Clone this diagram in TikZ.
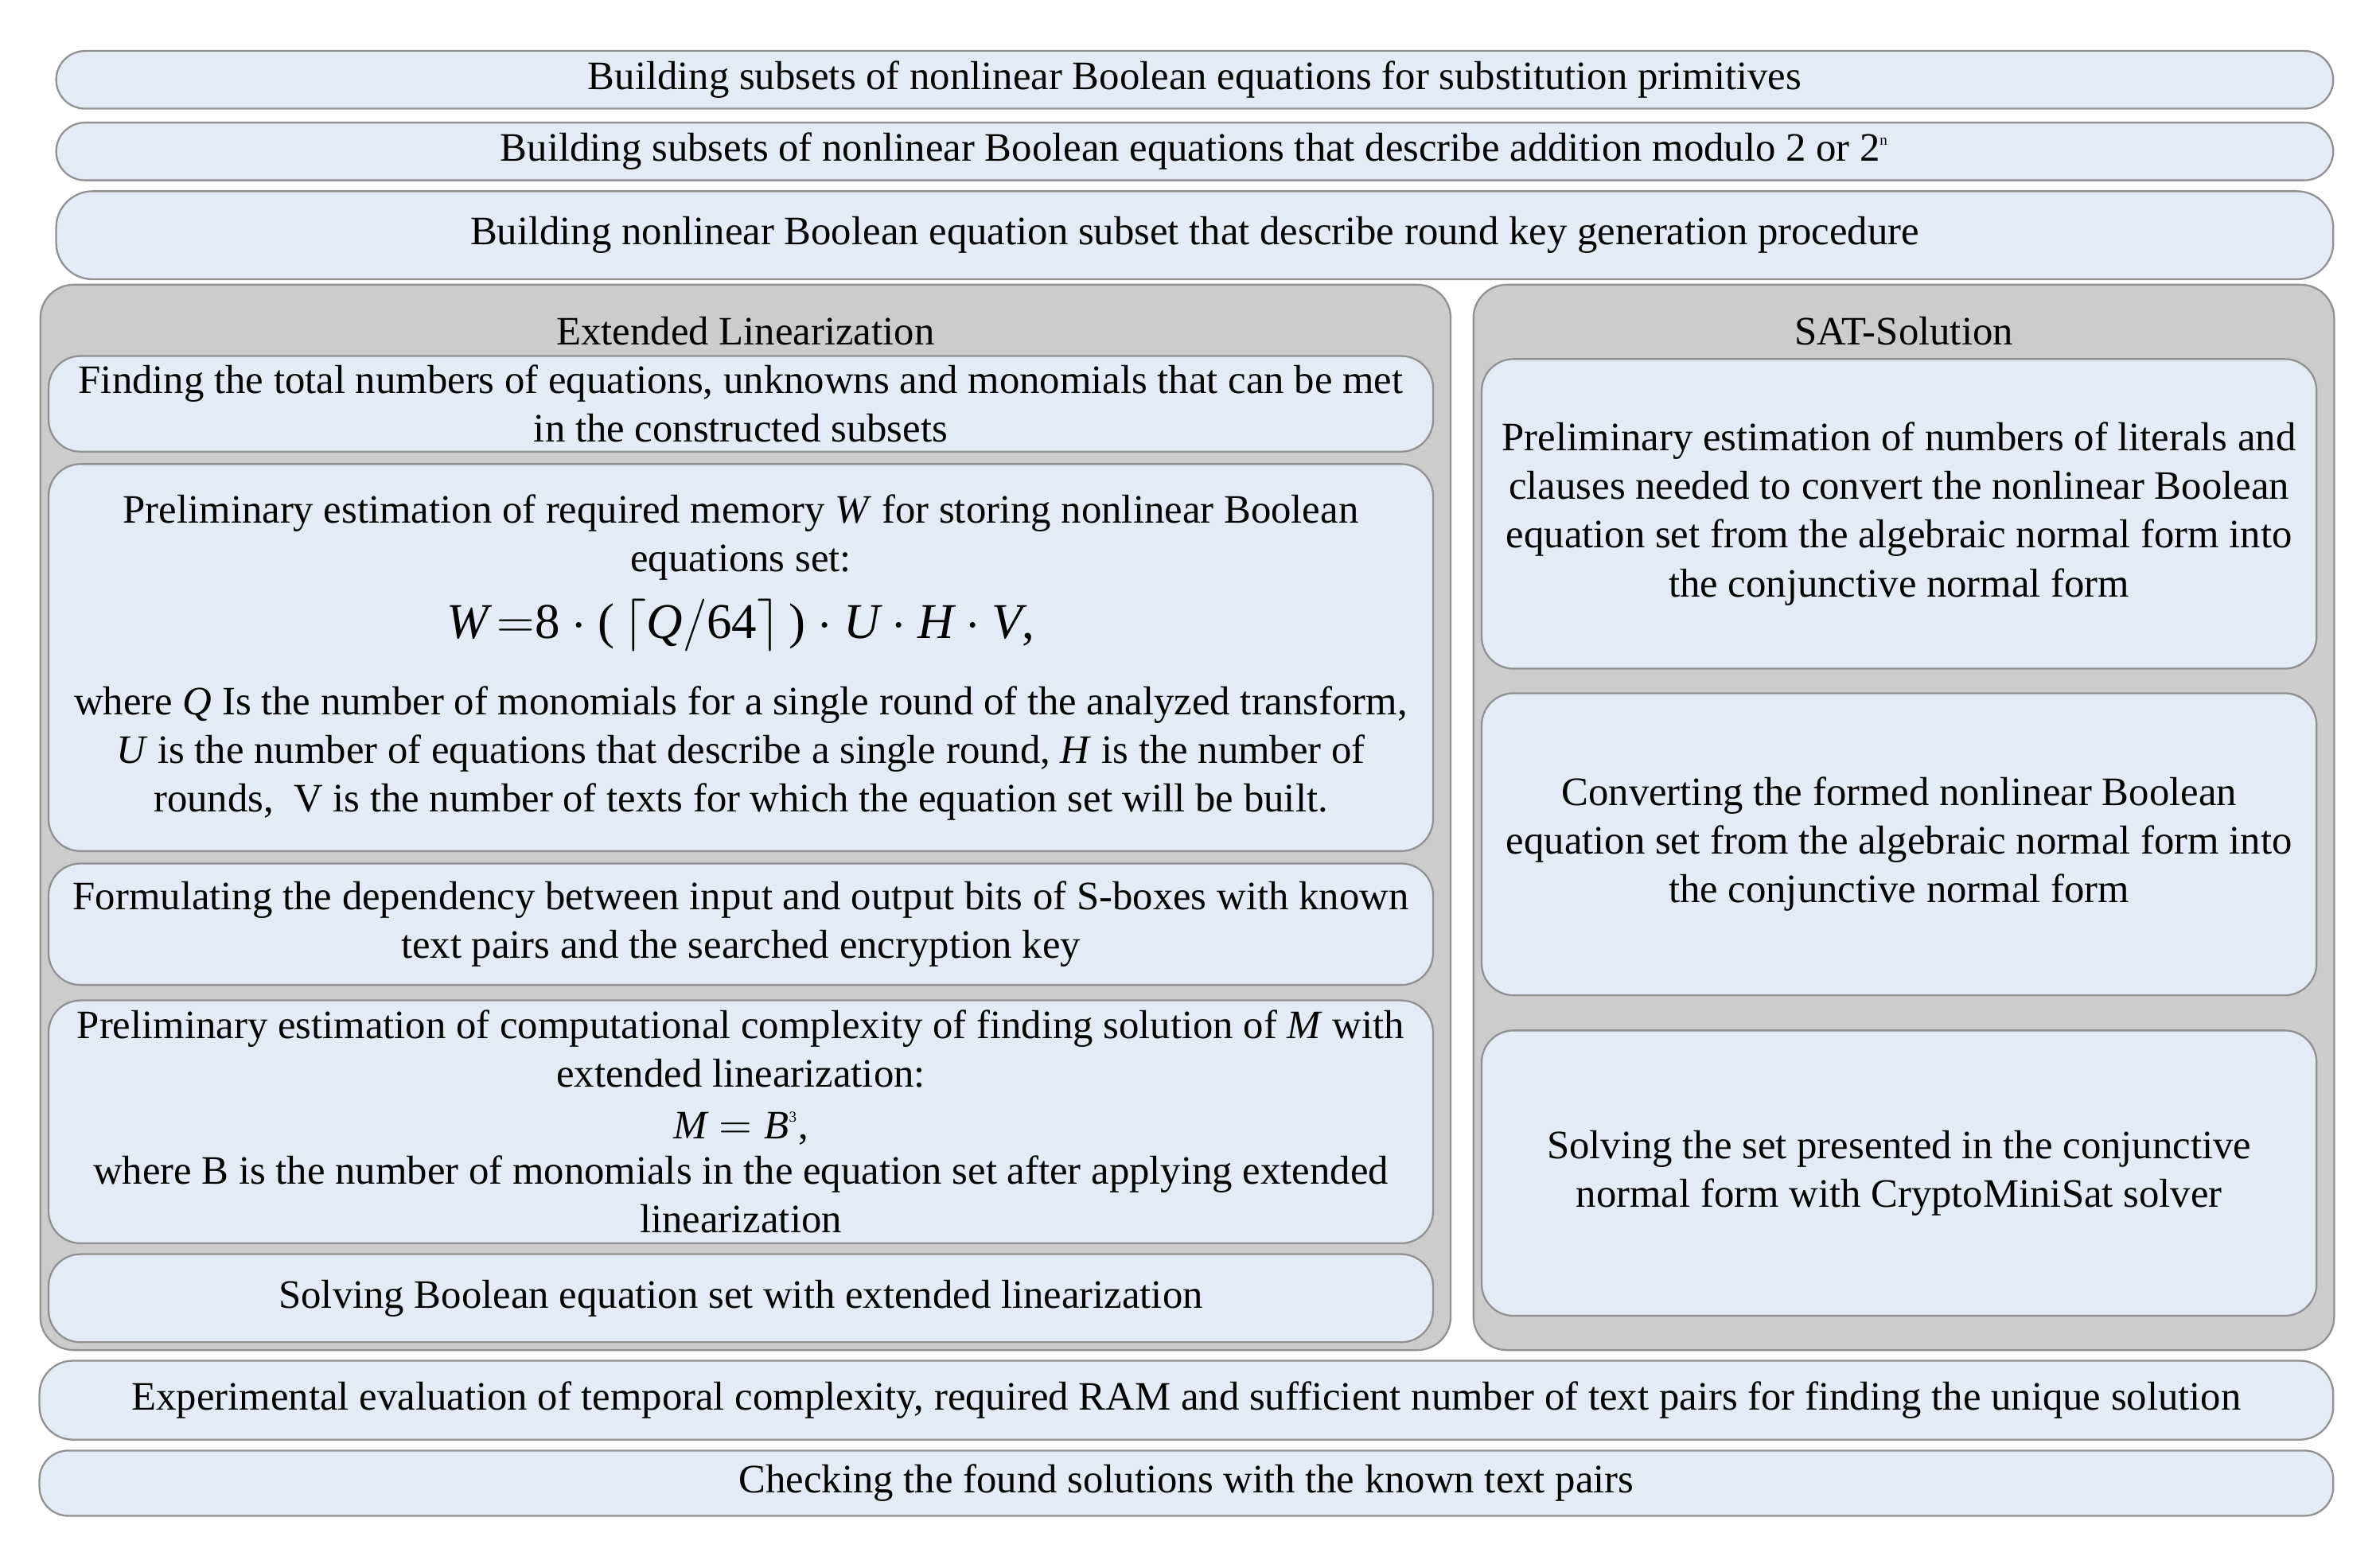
\documentclass[tikz,border=0pt]{standalone}
\usepackage{fontspec}
\setmainfont{Liberation Serif}
\usetikzlibrary{positioning}

\definecolor{boxfill}{RGB}{229,235,246}
\definecolor{groupfill}{RGB}{204,204,204}
\definecolor{boxline}{RGB}{145,145,145}

\tikzstyle{stage} = [rectangle, rounded corners=9.5pt, minimum width=750pt, inner sep=0pt, align=center, draw=boxline, line width=0.6pt, fill=boxfill, font=\fontsize{13.3}{16}\selectfont]
\tikzstyle{group} = [rectangle, rounded corners=11pt, inner sep=0pt, draw=boxline, line width=0.6pt, fill=groupfill]
\tikzstyle{leftstep} = [stage, rounded corners=10.5pt, minimum width=456pt]
\tikzstyle{rightstep} = [stage, rounded corners=10.5pt, minimum width=275pt]
\tikzstyle{grouptitle} = [inner sep=0pt, font=\fontsize{13.3}{16}\selectfont]

\begin{document}
\begin{tikzpicture}[node distance=4pt]
        \useasboundingbox (0,0) rectangle (783.9pt,-512.6pt);

        % Preparation
        \node (subst) [stage, minimum height=19pt, anchor=north] at (393.5pt,-16.5pt) {Building subsets of nonlinear Boolean equations for substitution primitives};
        \node (addmod) [stage, minimum height=19pt, below=4pt of subst] {Building subsets of nonlinear Boolean equations that describe addition modulo 2 or 2$^{\textrm{\tiny n}}$};
        \node (roundkey) [stage, rounded corners=12pt, minimum height=29pt, below=3pt of addmod] {Building nonlinear Boolean equation subset that describe round key generation procedure};

        % Groups
        \node (elgroup) [group, minimum width=464.5pt, minimum height=351pt, anchor=north west] at (13pt,-93.5pt) {};
        \node (satgroup) [group, minimum width=283.5pt, minimum height=351pt, anchor=north west] at (485pt,-93.5pt) {};
        \node (eltitle) [grouptitle] at ([yshift=-15.5pt]elgroup.north) {Extended Linearization};
        \node (sattitle) [grouptitle] at ([yshift=-15.5pt]satgroup.north) {SAT-Solution};

        % Extended linearization
        \node (counting) [leftstep, minimum height=31.5pt, anchor=north] at (244pt,-117pt) {Finding the total numbers of equations, unknowns and monomials that can be met\\in the constructed subsets};
        \node (memory) [leftstep, minimum height=127.5pt, below=3.5pt of counting] {Preliminary estimation of required memory \textit{W} for storing nonlinear Boolean\\equations set:\\[6pt]
            {\fontsize{16.5}{18}\selectfont $\textit{W}\,{=}\textrm{8}\cdot\textrm{(}\left\lceil \vphantom{\Big|}\textit{Q}/\textrm{64}\right\rceil\textrm{)}\cdot \textit{U}\cdot\textit{H}\cdot\textit{V}$,}\\[9pt]
            where \textit{Q} Is the number of monomials for a single round of the analyzed transform,\\
            \textit{U} is the number of equations that describe a single round, \textit{H} is the number of\\
            rounds,\ \ V is the number of texts for which the equation set will be built.};
        \node (sboxes) [leftstep, minimum height=40pt, below=3.5pt of memory] {Formulating the dependency between input and output bits of S-boxes with known\\text pairs and the searched encryption key};
        \node (complexity) [leftstep, minimum height=80pt, below=4.5pt of sboxes] {Preliminary estimation of computational complexity of finding solution of \textit{M} with\\extended linearization:\\[1pt]
            $\textit{M} = \textit{B}^{\textrm{\tiny 3}}$,\\[-1pt]
            where B is the number of monomials in the equation set after applying extended\\linearization};
        \node (elsolve) [leftstep, minimum height=29pt, below=3pt of complexity] {Solving Boolean equation set with extended linearization};

        % SAT solution
        \node (literals) [rightstep, minimum height=102pt, anchor=north] at (625.5pt,-118pt) {Preliminary estimation of numbers of literals and\\clauses needed to convert the nonlinear Boolean\\equation set from the algebraic normal form into\\the conjunctive normal form};
        \node (convert) [rightstep, minimum height=99.5pt, below=7.5pt of literals] {Converting the formed nonlinear Boolean\\equation set from the algebraic normal form into\\the conjunctive normal form};
        \node (satsolve) [rightstep, minimum height=94pt, below=11pt of convert] {Solving the set presented in the conjunctive\\normal form with CryptoMiniSat solver};

        % Evaluation
        \node (experiment) [stage, rounded corners=11pt, minimum width=755.5pt, minimum height=26pt, anchor=north] at (390.75pt,-448pt) {Experimental evaluation of temporal complexity, required RAM and sufficient number of text pairs for finding the unique solution};
        \node (checking) [stage, minimum width=755.5pt, minimum height=21.5pt, below=3pt of experiment] {Checking the found solutions with the known text pairs};
\end{tikzpicture}
\end{document}
